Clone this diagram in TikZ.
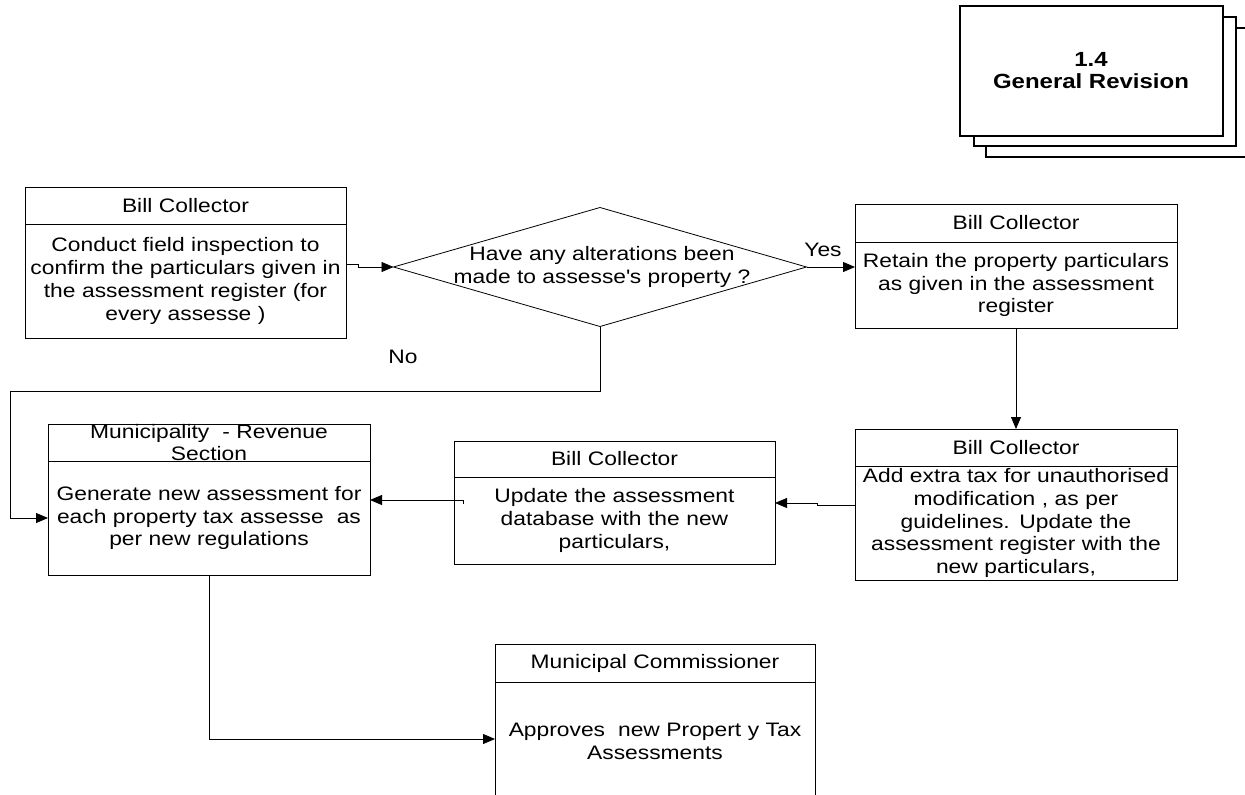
\documentclass[tikz,border=0pt]{standalone}
\usepackage{fontspec}
\setmainfont{Liberation Sans}[FakeStretch=1.17]
\usetikzlibrary{arrows.meta,shapes.geometric}

\tikzset{
  lane/.style={draw, line width=0.9pt, inner sep=0pt, outer sep=0pt, fill=white},
  laneline/.style={line width=0.9pt},
  lanetext/.style={font=\fontsize{19.5}{22.7}\selectfont, align=center, inner sep=0pt},
  decision/.style={diamond, draw, line width=0.8pt, inner sep=0pt, outer sep=0pt},
  flow/.style={line width=0.8pt, -{Triangle[length=12pt,width=10pt]}},
  stackpage/.style={draw, line width=1.3pt, fill=white},
}

% lane box: name, left, top, right, bottom, divider, header, body
\newcommand\lanebox[8]{%
  \pgfmathsetmacro\lbw{#4-#2}%
  \pgfmathsetmacro\lbh{#5-#3}%
  \pgfmathsetmacro\lbtw{#4-#2+40}%
  \pgfmathsetmacro\lbcx{(#2+#4)/2}%
  \pgfmathsetmacro\lbhy{(#3+#6)/2}%
  \pgfmathsetmacro\lbby{(#6+#5)/2}%
  \node[lane, minimum width=\lbw pt, minimum height=\lbh pt, anchor=north west] (#1) at (#2,#3) {};
  \draw[laneline] (#2,#6) -- (#4,#6);
  \node[lanetext, text width=\lbtw pt] (#1-head) at (\lbcx,\lbhy) {#7};
  \node[lanetext, text width=\lbtw pt] (#1-body) at (\lbcx,\lbby) {#8};
}

\begin{document}
\begin{tikzpicture}[x=1pt, y=-1pt]
\clip (0,0) rectangle (1245,795);
\fill[white] (0,0) rectangle (1245,795);

% stacked process card
\path[stackpage] (986,28) rectangle (1262,157);
\path[stackpage] (974,17) rectangle (1236,146);
\node[stackpage, minimum width=263pt, minimum height=130pt, anchor=north west, inner sep=0pt, outer sep=0pt] (card) at (960,6) {};
\node[font=\bfseries\fontsize{20.5}{22}\selectfont, align=center] (cardtext) at (1091,71) {1.4\\General Revision};

% lanes
\lanebox{inspect}{25}{187}{346}{338}{224}{Bill Collector}
  {Conduct field inspection to\\confirm the particulars given in\\the assessment register (for\\every assesse )}
\lanebox{retain}{855}{204}{1177}{328}{242}{Bill Collector}
  {Retain the property particulars\\as given in the assessment\\register}
\lanebox{extratax}{855}{429}{1177}{580}{466}{Bill Collector}
  {Add extra tax for unauthorised\\modification , as per\\guidelines. Update the\\assessment register with the\\new particulars,}
\lanebox{generate}{48}{424}{370}{575}{461}{Municipality\ \ - Revenue\\Section}
  {Generate new assessment for\\each property tax assesse\ \ as\\per new regulations}
\lanebox{database}{454}{441}{775}{564}{477}{Bill Collector}
  {Update the assessment\\database with the new\\particulars,}
\lanebox{approve}{495}{644}{815}{801}{682}{Municipal Commissioner}
  {Approves\ \ new Propert y Tax\\Assessments}

% decision
\node[decision, minimum width=413pt, minimum height=119pt] (check) at (600,267) {};
\node[lanetext] (checktext) at (602,267) {Have any alterations been\\made to assesse\textquotesingle s property ?};
\node[lanetext] (yes) at (823,250) {Yes};
\node[lanetext] (no) at (403,357) {No};

% connectors
\coordinate (a1) at (358,264);
\coordinate (a2) at (358,267);
\draw[flow] (inspect.east |- a1) -- (a1) -- (a2) -- (check.west);

\draw[flow] (check.east) -- (retain.west |- check.east);

\coordinate (n1) at (10,391);
\coordinate (n2) at (10,518);
\draw[flow] (check.south) |- (n1) -- (n2) -- (generate.west |- n2);

\draw[flow] (retain.south) -- (extratax.north);

\coordinate (f1) at (817,505);
\coordinate (f2) at (817,503);
\draw[flow] (extratax.west |- f1) -- (f1) -- (f2) -- (database.east |- f2);

\coordinate (e0) at (463,504);
\coordinate (e1) at (463,500);
\draw[flow] (e0) -- (e1) -- (generate.east |- e1);

\coordinate (g1) at (209,739);
\draw[flow] (generate.south) -- (g1) -- (approve.west |- g1);
\end{tikzpicture}
\end{document}
